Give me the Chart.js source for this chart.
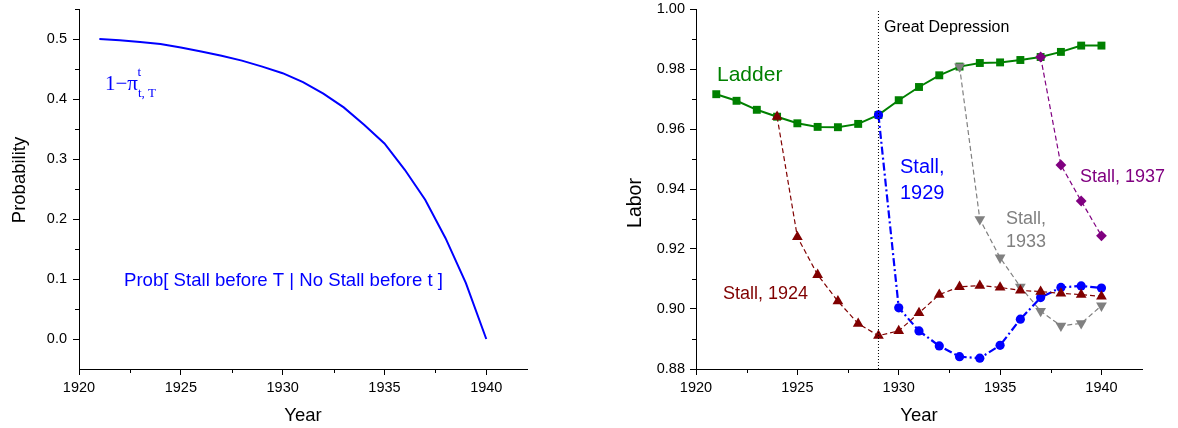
<!DOCTYPE html>
<html><head><meta charset="utf-8">
<script src="https://cdn.jsdelivr.net/npm/chart.js@4/dist/chart.umd.min.js"></script>
<style>
html,body{margin:0;padding:0;background:#fff;}
#wrap{position:relative;width:1178px;height:428px;overflow:hidden;}
.c{position:absolute;top:0;width:589px;height:428px;}
</style></head><body>
<div id="wrap">
<div class="c" style="left:0"><canvas id="left"></canvas></div>
<div class="c" style="left:589px"><canvas id="right"></canvas></div>
</div>
<script>
// ---------- data ----------
const years = [1921,1922,1923,1924,1925,1926,1927,1928,1929,1930,1931,1932,1933,1934,1935,1936,1937,1938,1939,1940];
const probability = [0.500,0.498,0.495,0.4917,0.486,0.479,0.472,0.464,0.454,0.443,0.428,0.409,0.386,0.357,0.326,0.282,0.232,0.168,0.093,0.0];
const ladder = [0.9716,0.9694,0.9664,0.9641,0.9619,0.9607,0.9606,0.9617,0.9647,0.9696,0.9740,0.9779,0.9808,0.9820,0.9822,0.9830,0.9840,0.9857,0.9878,0.9878];
const stall1924 = [null,null,null,0.9641,0.9240,0.9114,0.9026,0.8951,0.8911,0.8927,0.8987,0.9048,0.9074,0.9078,0.9072,0.9062,0.9058,0.9052,0.9048,0.9042];
const stall1929 = [null,null,null,null,null,null,null,null,0.9647,0.9004,0.8927,0.8877,0.8841,0.8836,0.8879,0.8966,0.9038,0.9072,0.9077,0.9070];
const stall1933 = [null,null,null,null,null,null,null,null,null,null,null,null,0.9808,0.9299,0.9171,0.9074,0.8993,0.8944,0.8952,0.9011];
const stall1937 = [null,null,null,null,null,null,null,null,null,null,null,null,null,null,null,null,0.9840,0.9480,0.9360,0.9244];
const depressionYear = 1929;
const xTickValues = [1920,1925,1930,1935,1940];
const xMinorTicks = [1922.5,1927.5,1932.5,1937.5];
const probTickValues = [0.0,0.1,0.2,0.3,0.4,0.5];
const probMinorTicks = [0.05,0.15,0.25,0.35,0.45,0.55];
const laborTickValues = [0.88,0.90,0.92,0.94,0.96,0.98,1.00];
const laborMinorTicks = [0.89,0.91,0.93,0.95,0.97,0.99];

const pts = arr => years.map((y,i)=>arr[i]==null?null:{x:y,y:arr[i]}).filter(p=>p);

const SANS = '"Liberation Sans", Arial, Helvetica, sans-serif';
const SERIF = '"Liberation Serif", "Times New Roman", serif';

const minorTicks = {
  id:'minorTicks',
  afterDraw(chart, args, opts){
    const ctx=chart.ctx, xs=chart.scales.x, ys=chart.scales.y;
    ctx.save(); ctx.strokeStyle='#000'; ctx.lineWidth=1; ctx.beginPath();
    opts.x.forEach(v=>{const px=Math.round(xs.getPixelForValue(v))+0.5; ctx.moveTo(px,ys.bottom); ctx.lineTo(px,ys.bottom+4);});
    opts.y.forEach(v=>{const py=Math.round(ys.getPixelForValue(v))+0.5; ctx.moveTo(xs.left,py); ctx.lineTo(xs.left-4,py);});
    ctx.stroke(); ctx.restore();
  }
};
const textLabels = {
  id:'textLabels',
  afterDraw(chart, args, opts){
    const ctx=chart.ctx;
    opts.items.forEach(it=>{
      ctx.save();
      ctx.font=it.font; ctx.fillStyle=it.color||'#000';
      ctx.textBaseline='alphabetic'; ctx.textAlign=it.align||'left';
      ctx.translate(it.x,it.y);
      if(it.rotate) ctx.rotate(it.rotate);
      ctx.fillText(it.text,0,0);
      ctx.restore();
    });
  }
};

function xScale(){
  return {
    type:'linear', min:1920, max:1942,
    afterBuildTicks:s=>{s.ticks=xTickValues.map(v=>({value:v}));},
    afterFit:s=>{s.height=59; s.paddingLeft=0; s.paddingRight=0;},
    grid:{drawOnChartArea:false, tickLength:6, tickColor:'#000', tickWidth:1},
    border:{display:true,color:'#000',width:1},
    ticks:{color:'#000', font:{family:SANS,size:14.5}, padding:4, maxRotation:0, callback:v=>String(v)}
  };
}
function yScale(min,max,vals,dec,width,pad){
  return {
    type:'linear', min, max,
    afterBuildTicks:s=>{s.ticks=vals.map(v=>({value:v}));},
    afterFit:s=>{s.width=width; s.paddingTop=0; s.paddingBottom=0;},
    grid:{drawOnChartArea:false, tickLength:6, tickColor:'#000', tickWidth:1},
    border:{display:true,color:'#000',width:1},
    ticks:{color:'#000', font:{family:SANS,size:14.5}, padding:pad, callback:v=>v.toFixed(dec)}
  };
}

// ---------- left chart ----------
new Chart(document.getElementById('left'),{
  type:'line',
  data:{datasets:[{
    data:pts(probability), borderColor:'#0000ff', borderWidth:2, pointRadius:0,
    tension:0, fill:false
  }]},
  options:{
    responsive:true, maintainAspectRatio:false, animation:false,
    layout:{padding:{left:0,top:9,right:62,bottom:0}},
    scales:{x:xScale(), y:yScale(-0.05,0.55,probTickValues,1,79,6)},
    plugins:{
      legend:{display:false}, tooltip:{enabled:false},
      minorTicks:{x:xMinorTicks,y:probMinorTicks},
      textLabels:{items:[
        {text:'Probability', x:24.5, y:180, rotate:-Math.PI/2, align:'center', font:'18.5px '+SANS},
        {text:'Year', x:303, y:421, align:'center', font:'18.5px '+SANS},
        {text:'Prob[ Stall before T | No Stall before t ]', x:124, y:286, color:'#0000ff', font:'18.6px '+SANS},
        {text:'1\u2212\u03c0', x:105, y:90, color:'#0000ff', font:'21px '+SERIF},
        {text:'t', x:137.5, y:76, color:'#0000ff', font:'13px '+SERIF},
        {text:'t, T', x:138, y:97, color:'#0000ff', font:'13px '+SERIF}
      ]}
    }
  },
  plugins:[minorTicks,textLabels]
});

// ---------- right chart ----------
const common = {tension:0, fill:false, pointHoverRadius:0};
new Chart(document.getElementById('right'),{
  type:'line',
  data:{datasets:[
    {data:[{x:depressionYear,y:0.88},{x:depressionYear,y:1.0}], borderColor:'#000', borderWidth:1, borderDash:[1,2], pointRadius:0, fill:false},
    Object.assign({data:pts(stall1924), borderColor:'#800000', backgroundColor:'#800000', borderWidth:1.2, borderDash:[5,3],
      pointStyle:'triangle', pointRadius:6.2, pointBorderWidth:0},common),
    Object.assign({data:pts(stall1929), borderColor:'#0000ff', backgroundColor:'#0000ff', borderWidth:2.2, borderDash:[8,3,2,3],
      pointStyle:'circle', pointRadius:4.6, pointBorderWidth:0},common),
    Object.assign({data:pts(stall1933), borderColor:'#808080', backgroundColor:'#808080', borderWidth:1.2, borderDash:[5,3],
      pointStyle:'triangle', pointRotation:180, pointRadius:6.2, pointBorderWidth:0},common),
    Object.assign({data:pts(stall1937), borderColor:'#800080', backgroundColor:'#800080', borderWidth:1.2, borderDash:[5,3],
      pointStyle:'rectRot', pointRadius:5.4, pointBorderWidth:0},common),
    Object.assign({data:pts(ladder), borderColor:'#008000', backgroundColor:'#008000', borderWidth:2,
      pointStyle:'rect', pointRadius:5.6, pointBorderWidth:0},common)
  ]},
  options:{
    responsive:true, maintainAspectRatio:false, animation:false,
    layout:{padding:{left:0,top:9,right:36,bottom:0}},
    scales:{x:xScale(), y:yScale(0.88,1.0,laborTickValues,2,107,5)},
    plugins:{
      legend:{display:false}, tooltip:{enabled:false},
      minorTicks:{x:xMinorTicks,y:laborMinorTicks},
      textLabels:{items:[
        {text:'Labor', x:52, y:203, rotate:-Math.PI/2, align:'center', font:'19.5px '+SANS},
        {text:'Year', x:330, y:421, align:'center', font:'18.5px '+SANS},
        {text:'Great Depression', x:295, y:32, color:'#000', font:'16px '+SANS},
        {text:'Ladder', x:128, y:81, color:'#008000', font:'21px '+SANS},
        {text:'Stall,', x:311, y:173, color:'#0000ff', font:'20px '+SANS},
        {text:'1929', x:311, y:199, color:'#0000ff', font:'20px '+SANS},
        {text:'Stall, 1937', x:491, y:182, color:'#800080', font:'18px '+SANS},
        {text:'Stall,', x:417, y:223.5, color:'#808080', font:'18px '+SANS},
        {text:'1933', x:417, y:246.5, color:'#808080', font:'18px '+SANS},
        {text:'Stall, 1924', x:134, y:299, color:'#800000', font:'18px '+SANS}
      ]}
    }
  },
  plugins:[minorTicks,textLabels]
});
</script>
</body></html>
